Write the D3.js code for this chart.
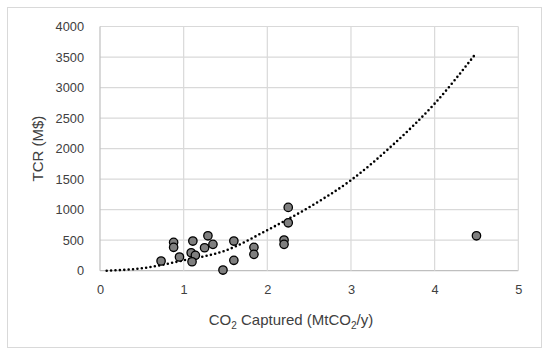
<!DOCTYPE html>
<html>
<head>
<meta charset="utf-8">
<script src="https://cdn.jsdelivr.net/npm/d3@7"></script>
<style>
  body { margin: 0; background: #fff; }
  text { font-family: "Liberation Sans", Arial, sans-serif; fill: #404040; }
</style>
</head>
<body>
<svg id="mainSVG" width="550" height="354"></svg>
<script>
// dados
var capturado = [2.25, 2.25, 2.20, 2.20, 1.84, 1.84, 1.60, 1.60, 1.47, 1.29, 1.35, 1.25, 1.11, 1.09, 1.14, 1.10, 0.95, 0.88, 0.88, 0.73, 4.50];
var tcr = [1037, 785, 502, 432, 383, 268, 486, 170, 11, 572, 432, 376, 486, 294, 252, 147, 224, 464, 383, 159, 572];

var trendX = [0.08, 0.5, 1.0, 1.5, 2.0, 2.5, 3.0, 3.5, 4.0, 4.5];
var trendY = [0, 40, 170, 330, 665, 1040, 1483, 2060, 2737, 3570];

var xTicks = [0, 1, 2, 3, 4, 5];
var yTicks = [0, 500, 1000, 1500, 2000, 2500, 3000, 3500, 4000];

var mainSVG = d3.select("#mainSVG");

// borda externa
mainSVG.append("rect")
  .attr("x", 7.5).attr("y", 7.5)
  .attr("width", 534).attr("height", 340)
  .attr("fill", "none")
  .attr("stroke", "#d9d9d9");

var plotLeft = 100, plotRight = 518.3, plotTop = 26.5, plotBottom = 270.7;

var xScale = d3.scaleLinear().domain([0, 5]).range([plotLeft, plotRight]);
var yScale = d3.scaleLinear().domain([0, 4000]).range([plotBottom, plotTop]);

// grades
mainSVG.append("g").selectAll("line")
  .data(yTicks)
  .enter().append("line")
  .attr("x1", plotLeft).attr("x2", plotRight)
  .attr("y1", function(d) { return yScale(d); })
  .attr("y2", function(d) { return yScale(d); })
  .attr("stroke", function(d) { return d == 0 ? "#bfbfbf" : "#d9d9d9"; })
  .attr("stroke-width", 1.2);

mainSVG.append("g").selectAll("line")
  .data(xTicks)
  .enter().append("line")
  .attr("x1", function(d) { return xScale(d); })
  .attr("x2", function(d) { return xScale(d); })
  .attr("y1", plotTop).attr("y2", plotBottom)
  .attr("stroke", function(d) { return d == 0 ? "#bfbfbf" : "#d9d9d9"; })
  .attr("stroke-width", 1.2);

// eixos (apenas rotulos)
var xAxis = d3.axisBottom(xScale).tickValues(xTicks).tickFormat(d3.format("d")).tickSize(0).tickPadding(14);
var xAxisGroup = mainSVG.append("g")
  .attr("transform", "translate(0," + plotBottom + ")")
  .call(xAxis);
var yAxis = d3.axisLeft(yScale).tickValues(yTicks).tickFormat(d3.format("d")).tickSize(0).tickPadding(16);
var yAxisGroup = mainSVG.append("g")
  .attr("transform", "translate(" + plotLeft + ",0)")
  .call(yAxis);

[xAxisGroup, yAxisGroup].forEach(function(g) {
  g.select(".domain").remove();
  g.selectAll("text")
    .attr("font-family", "Liberation Sans, Arial, sans-serif")
    .style("font-size", "12.8px")
    .style("fill", "#404040");
});

// linha de tendencia
var pontosTrend = trendX.map(function(x, i) { return [x, trendY[i]]; });
var linha = d3.line()
  .x(function(d) { return xScale(d[0]); })
  .y(function(d) { return yScale(d[1]); })
  .curve(d3.curveMonotoneX);

mainSVG.append("path")
  .datum(pontosTrend)
  .attr("d", linha)
  .attr("fill", "none")
  .attr("stroke", "#000")
  .attr("stroke-width", 2.6)
  .attr("stroke-linecap", "round")
  .attr("stroke-dasharray", "0,4.4");

// pontos
var pontos = capturado.map(function(x, i) { return {x: x, y: tcr[i]}; });
mainSVG.append("g").selectAll("circle")
  .data(pontos)
  .enter().append("circle")
  .attr("cx", function(d) { return xScale(d.x); })
  .attr("cy", function(d) { return yScale(d.y); })
  .attr("r", 4.2)
  .attr("fill", "#7f7f7f")
  .attr("stroke", "#000")
  .attr("stroke-width", 1.3);

// titulos dos eixos
var xTitle = mainSVG.append("text")
  .attr("x", 291).attr("y", 325)
  .attr("text-anchor", "middle")
  .style("font-size", "15px");
xTitle.append("tspan").text("CO");
xTitle.append("tspan").attr("dy", 4).style("font-size", "10px").text("2");
xTitle.append("tspan").attr("dy", -4).text(" Captured (MtCO");
xTitle.append("tspan").attr("dy", 4).style("font-size", "10px").text("2");
xTitle.append("tspan").attr("dy", -4).text("/y)");

mainSVG.append("text")
  .attr("transform", "translate(43," + ((plotTop + plotBottom) / 2) + ") rotate(-90)")
  .attr("text-anchor", "middle")
  .style("font-size", "15px")
  .text("TCR (M$)");
</script>
</body>
</html>
